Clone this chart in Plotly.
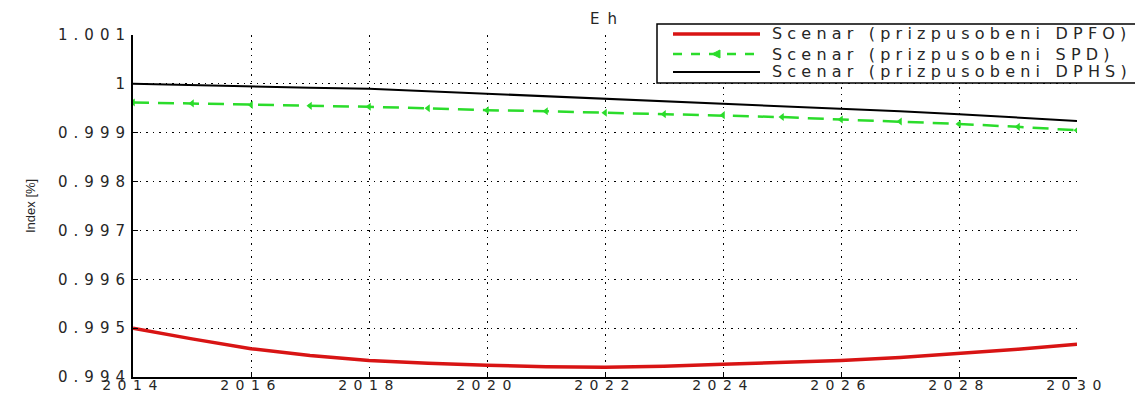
import plotly.graph_objects as go

# ---- data -------------------------------------------------------------
years = list(range(2014, 2031))

dpfo = [0.99500, 0.99478, 0.99458, 0.99444, 0.99434, 0.99428, 0.99424, 0.99421,
        0.99420, 0.99422, 0.99426, 0.99430, 0.99434, 0.99440, 0.99448, 0.99457,
        0.99467]
spd = [0.99962, 0.99960, 0.99957, 0.99955, 0.99953, 0.99950, 0.99946, 0.99944,
       0.99941, 0.99938, 0.99936, 0.99932, 0.99927, 0.99923, 0.99918, 0.99912,
       0.99905]
dphs = [1.00000, 0.99997, 0.99994, 0.99992, 0.99990, 0.99985, 0.99979, 0.99974,
        0.99969, 0.99964, 0.99959, 0.99954, 0.99949, 0.99944, 0.99938, 0.99931,
        0.99924]

series_names = ["Scenar (prizpusobeni DPFO)",
                "Scenar (prizpusobeni SPD)",
                "Scenar (prizpusobeni DPHS)"]

x_ticks = [2014, 2016, 2018, 2020, 2022, 2024, 2026, 2028, 2030]
y_ticks = [0.994, 0.995, 0.996, 0.997, 0.998, 0.999, 1.0, 1.001]
y_tick_text = ["0.994", "0.995", "0.996", "0.997", "0.998", "0.999", "1", "1.001"]

title_text = "Eh"
y_title = "Index [%]"

# ---- styling ----------------------------------------------------------
W, H = 1135, 394
L, R, T, B = 133, 58, 35, 17
RED, GREEN, BLACK = "#d81414", "#2bdc2b", "#000000"
FONT = "DejaVu Sans, Verdana, sans-serif"
TXT = "#262626"


def wide(s, sp):
    return f'<span style="letter-spacing:{sp}px">{s}</span>'


def px(x):
    return (x - L) / (W - L - R)


def py(y):
    return (H - B - y) / (H - T - B)


fig = go.Figure()
fig.add_trace(go.Scatter(x=years, y=dpfo, mode="lines", name=series_names[0],
                         line=dict(color=RED, width=3.5)))
fig.add_trace(go.Scatter(x=years, y=spd, mode="lines+markers", name=series_names[1],
                         line=dict(color=GREEN, width=2.5, dash="16px,9px"),
                         marker=dict(symbol="triangle-left", size=7, color=GREEN)))
fig.add_trace(go.Scatter(x=years, y=dphs, mode="lines", name=series_names[2],
                         line=dict(color=BLACK, width=2)))

axis_common = dict(
    showgrid=True, gridcolor="#000000", gridwidth=1, griddash="1.5px,5px",
    showline=True, linecolor="#000000", linewidth=2,
    ticks="inside", ticklen=5, tickcolor="#000000", tickwidth=1,
    zeroline=False, mirror=False, automargin=False,
)

fig.update_xaxes(range=[2014, 2030], tickmode="array", tickvals=x_ticks,
                 ticktext=[wide(str(v), 6.5) for v in x_ticks],
                 ticklabelstandoff=-6,
                 tickfont=dict(family=FONT, size=14, color=TXT), **axis_common)
fig.update_yaxes(range=[0.994, 1.001], tickmode="array", tickvals=y_ticks,
                 ticktext=[wide(t, 6) for t in y_tick_text],
                 ticklabelstandoff=-3,
                 tickfont=dict(family=FONT, size=15, color=TXT), **axis_common)

shapes = []
annotations = []

# legend box
shapes.append(dict(type="rect", xref="paper", yref="paper",
                   x0=px(657), x1=px(1145), y0=py(83), y1=py(24),
                   line=dict(color="#000000", width=1.5), fillcolor="#ffffff",
                   layer="above"))
legend_rows = [(34, RED, 3.5, "solid"), (54, GREEN, 2.5, "dash"), (72, BLACK, 2, "solid")]
for (yy, col, w, d), name in zip(legend_rows, series_names):
    shapes.append(dict(type="line", xref="paper", yref="paper",
                       x0=px(673), x1=px(760), y0=py(yy), y1=py(yy),
                       line=dict(color=col, width=w, dash=d), layer="above"))
    annotations.append(dict(text=wide(name, 5.2), xref="paper", yref="paper",
                            x=px(770), y=py(yy), xanchor="left", yanchor="middle",
                            showarrow=False,
                            font=dict(family=FONT, size=16, color=TXT)))
# marker sample for the dashed series
tx, ty = 716, 54
shapes.append(dict(type="path", xref="paper", yref="paper",
                   path=(f"M {px(tx - 4)} {py(ty)} L {px(tx + 4)} {py(ty - 4)} "
                         f"L {px(tx + 4)} {py(ty + 4)} Z"),
                   fillcolor=GREEN, line=dict(color=GREEN, width=1), layer="above"))

# title
annotations.append(dict(text=wide(title_text, 8), xref="paper", yref="paper",
                        x=px(607), y=py(19), xanchor="center", yanchor="middle",
                        showarrow=False, font=dict(family=FONT, size=15, color=TXT)))
# y axis title
annotations.append(dict(text=y_title, xref="paper", yref="paper",
                        x=px(30), y=py(206), xanchor="center", yanchor="middle",
                        textangle=-90, showarrow=False,
                        font=dict(family="Liberation Sans, Arial, sans-serif",
                                  size=13, color=TXT)))

fig.update_layout(
    width=W, height=H,
    margin=dict(l=L, r=R, t=T, b=B),
    paper_bgcolor="#ffffff", plot_bgcolor="#ffffff",
    showlegend=False,
    shapes=shapes, annotations=annotations,
)

fig.write_html("out.html")
